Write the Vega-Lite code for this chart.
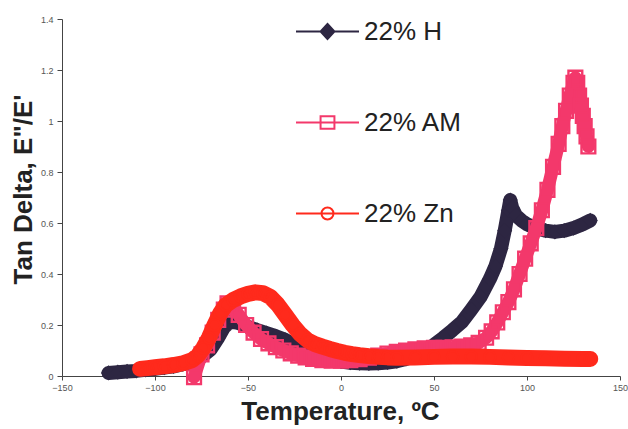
{
  "$schema": "https://vega.github.io/schema/vega-lite/v6.json",
  "width": 558,
  "height": 357,
  "autosize": {"type": "none"},
  "padding": {"left": 62, "top": 19, "right": 8, "bottom": 53},
  "background": "white",
  "config": {"view": {"stroke": null}, "font": "Liberation Sans"},
  "data": {
    "values": [
      {"series": "22% H", "temp": -125, "tan": 0.012}, {"series": "22% H", "temp": -120, "tan": 0.015},
      {"series": "22% H", "temp": -115, "tan": 0.018}, {"series": "22% H", "temp": -110, "tan": 0.02},
      {"series": "22% H", "temp": -105, "tan": 0.024}, {"series": "22% H", "temp": -100, "tan": 0.028},
      {"series": "22% H", "temp": -95, "tan": 0.033}, {"series": "22% H", "temp": -90, "tan": 0.038},
      {"series": "22% H", "temp": -85, "tan": 0.046}, {"series": "22% H", "temp": -80, "tan": 0.056},
      {"series": "22% H", "temp": -75, "tan": 0.075}, {"series": "22% H", "temp": -70, "tan": 0.105},
      {"series": "22% H", "temp": -66, "tan": 0.15}, {"series": "22% H", "temp": -63, "tan": 0.19},
      {"series": "22% H", "temp": -60, "tan": 0.21}, {"series": "22% H", "temp": -57, "tan": 0.212},
      {"series": "22% H", "temp": -54, "tan": 0.205}, {"series": "22% H", "temp": -50, "tan": 0.193},
      {"series": "22% H", "temp": -45, "tan": 0.18}, {"series": "22% H", "temp": -40, "tan": 0.168},
      {"series": "22% H", "temp": -35, "tan": 0.156}, {"series": "22% H", "temp": -30, "tan": 0.142},
      {"series": "22% H", "temp": -25, "tan": 0.122}, {"series": "22% H", "temp": -20, "tan": 0.104},
      {"series": "22% H", "temp": -15, "tan": 0.088}, {"series": "22% H", "temp": -10, "tan": 0.074},
      {"series": "22% H", "temp": -5, "tan": 0.064}, {"series": "22% H", "temp": 0, "tan": 0.057},
      {"series": "22% H", "temp": 5, "tan": 0.052}, {"series": "22% H", "temp": 10, "tan": 0.05},
      {"series": "22% H", "temp": 15, "tan": 0.049}, {"series": "22% H", "temp": 20, "tan": 0.05},
      {"series": "22% H", "temp": 25, "tan": 0.053}, {"series": "22% H", "temp": 30, "tan": 0.058},
      {"series": "22% H", "temp": 35, "tan": 0.067}, {"series": "22% H", "temp": 40, "tan": 0.08},
      {"series": "22% H", "temp": 45, "tan": 0.098}, {"series": "22% H", "temp": 50, "tan": 0.122},
      {"series": "22% H", "temp": 55, "tan": 0.15}, {"series": "22% H", "temp": 60, "tan": 0.18},
      {"series": "22% H", "temp": 65, "tan": 0.212}, {"series": "22% H", "temp": 70, "tan": 0.26},
      {"series": "22% H", "temp": 75, "tan": 0.31}, {"series": "22% H", "temp": 80, "tan": 0.38},
      {"series": "22% H", "temp": 83, "tan": 0.43}, {"series": "22% H", "temp": 86, "tan": 0.5},
      {"series": "22% H", "temp": 88, "tan": 0.57}, {"series": "22% H", "temp": 90, "tan": 0.65},
      {"series": "22% H", "temp": 91, "tan": 0.69}, {"series": "22% H", "temp": 92, "tan": 0.66},
      {"series": "22% H", "temp": 94, "tan": 0.63}, {"series": "22% H", "temp": 97, "tan": 0.61},
      {"series": "22% H", "temp": 100, "tan": 0.595}, {"series": "22% H", "temp": 105, "tan": 0.58},
      {"series": "22% H", "temp": 110, "tan": 0.57}, {"series": "22% H", "temp": 115, "tan": 0.565},
      {"series": "22% H", "temp": 120, "tan": 0.57}, {"series": "22% H", "temp": 125, "tan": 0.58},
      {"series": "22% H", "temp": 130, "tan": 0.595}, {"series": "22% H", "temp": 134, "tan": 0.61},

      {"series": "22% AM", "temp": -79, "tan": -0.005}, {"series": "22% AM", "temp": -75, "tan": 0.085},
      {"series": "22% AM", "temp": -72, "tan": 0.12}, {"series": "22% AM", "temp": -69, "tan": 0.17},
      {"series": "22% AM", "temp": -66, "tan": 0.22}, {"series": "22% AM", "temp": -63, "tan": 0.26},
      {"series": "22% AM", "temp": -61, "tan": 0.285}, {"series": "22% AM", "temp": -58, "tan": 0.27},
      {"series": "22% AM", "temp": -55, "tan": 0.24}, {"series": "22% AM", "temp": -51, "tan": 0.2},
      {"series": "22% AM", "temp": -47, "tan": 0.17}, {"series": "22% AM", "temp": -43, "tan": 0.145},
      {"series": "22% AM", "temp": -39, "tan": 0.128}, {"series": "22% AM", "temp": -35, "tan": 0.113},
      {"series": "22% AM", "temp": -31, "tan": 0.1}, {"series": "22% AM", "temp": -27, "tan": 0.089},
      {"series": "22% AM", "temp": -23, "tan": 0.08}, {"series": "22% AM", "temp": -19, "tan": 0.073},
      {"series": "22% AM", "temp": -15, "tan": 0.067}, {"series": "22% AM", "temp": -10, "tan": 0.062},
      {"series": "22% AM", "temp": -5, "tan": 0.06}, {"series": "22% AM", "temp": 0, "tan": 0.06},
      {"series": "22% AM", "temp": 5, "tan": 0.062}, {"series": "22% AM", "temp": 10, "tan": 0.066},
      {"series": "22% AM", "temp": 15, "tan": 0.072}, {"series": "22% AM", "temp": 20, "tan": 0.08},
      {"series": "22% AM", "temp": 25, "tan": 0.088}, {"series": "22% AM", "temp": 30, "tan": 0.095},
      {"series": "22% AM", "temp": 35, "tan": 0.1}, {"series": "22% AM", "temp": 40, "tan": 0.105},
      {"series": "22% AM", "temp": 45, "tan": 0.108}, {"series": "22% AM", "temp": 50, "tan": 0.11},
      {"series": "22% AM", "temp": 55, "tan": 0.11}, {"series": "22% AM", "temp": 60, "tan": 0.112},
      {"series": "22% AM", "temp": 65, "tan": 0.115}, {"series": "22% AM", "temp": 70, "tan": 0.12},
      {"series": "22% AM", "temp": 74, "tan": 0.13}, {"series": "22% AM", "temp": 78, "tan": 0.15},
      {"series": "22% AM", "temp": 81, "tan": 0.175}, {"series": "22% AM", "temp": 84, "tan": 0.21},
      {"series": "22% AM", "temp": 87, "tan": 0.25}, {"series": "22% AM", "temp": 90, "tan": 0.29},
      {"series": "22% AM", "temp": 93, "tan": 0.34}, {"series": "22% AM", "temp": 96, "tan": 0.4},
      {"series": "22% AM", "temp": 99, "tan": 0.46}, {"series": "22% AM", "temp": 102, "tan": 0.52},
      {"series": "22% AM", "temp": 105, "tan": 0.58}, {"series": "22% AM", "temp": 108, "tan": 0.65},
      {"series": "22% AM", "temp": 111, "tan": 0.73}, {"series": "22% AM", "temp": 114, "tan": 0.82},
      {"series": "22% AM", "temp": 117, "tan": 0.91}, {"series": "22% AM", "temp": 119, "tan": 0.98},
      {"series": "22% AM", "temp": 121, "tan": 1.04}, {"series": "22% AM", "temp": 123, "tan": 1.1},
      {"series": "22% AM", "temp": 125, "tan": 1.15}, {"series": "22% AM", "temp": 126, "tan": 1.17},
      {"series": "22% AM", "temp": 127, "tan": 1.15}, {"series": "22% AM", "temp": 128, "tan": 1.1},
      {"series": "22% AM", "temp": 129, "tan": 1.06}, {"series": "22% AM", "temp": 130, "tan": 1.02},
      {"series": "22% AM", "temp": 131, "tan": 0.98}, {"series": "22% AM", "temp": 132, "tan": 0.94},
      {"series": "22% AM", "temp": 133, "tan": 0.9},

      {"series": "22% Zn", "temp": -108, "tan": 0.028}, {"series": "22% Zn", "temp": -104, "tan": 0.031},
      {"series": "22% Zn", "temp": -100, "tan": 0.034}, {"series": "22% Zn", "temp": -95, "tan": 0.038},
      {"series": "22% Zn", "temp": -90, "tan": 0.043}, {"series": "22% Zn", "temp": -85, "tan": 0.05},
      {"series": "22% Zn", "temp": -80, "tan": 0.062}, {"series": "22% Zn", "temp": -77, "tan": 0.08},
      {"series": "22% Zn", "temp": -74, "tan": 0.11}, {"series": "22% Zn", "temp": -71, "tan": 0.15},
      {"series": "22% Zn", "temp": -68, "tan": 0.2}, {"series": "22% Zn", "temp": -65, "tan": 0.245},
      {"series": "22% Zn", "temp": -62, "tan": 0.278}, {"series": "22% Zn", "temp": -58, "tan": 0.298},
      {"series": "22% Zn", "temp": -54, "tan": 0.312}, {"series": "22% Zn", "temp": -50, "tan": 0.322},
      {"series": "22% Zn", "temp": -46, "tan": 0.328}, {"series": "22% Zn", "temp": -42, "tan": 0.325},
      {"series": "22% Zn", "temp": -38, "tan": 0.31}, {"series": "22% Zn", "temp": -34, "tan": 0.28},
      {"series": "22% Zn", "temp": -30, "tan": 0.24}, {"series": "22% Zn", "temp": -26, "tan": 0.2},
      {"series": "22% Zn", "temp": -22, "tan": 0.165}, {"series": "22% Zn", "temp": -18, "tan": 0.14},
      {"series": "22% Zn", "temp": -14, "tan": 0.125}, {"series": "22% Zn", "temp": -10, "tan": 0.115},
      {"series": "22% Zn", "temp": -6, "tan": 0.106}, {"series": "22% Zn", "temp": -2, "tan": 0.098},
      {"series": "22% Zn", "temp": 2, "tan": 0.091}, {"series": "22% Zn", "temp": 6, "tan": 0.086},
      {"series": "22% Zn", "temp": 10, "tan": 0.082}, {"series": "22% Zn", "temp": 15, "tan": 0.078},
      {"series": "22% Zn", "temp": 20, "tan": 0.075}, {"series": "22% Zn", "temp": 25, "tan": 0.073},
      {"series": "22% Zn", "temp": 30, "tan": 0.072}, {"series": "22% Zn", "temp": 40, "tan": 0.073},
      {"series": "22% Zn", "temp": 50, "tan": 0.075}, {"series": "22% Zn", "temp": 60, "tan": 0.076},
      {"series": "22% Zn", "temp": 70, "tan": 0.076}, {"series": "22% Zn", "temp": 80, "tan": 0.075},
      {"series": "22% Zn", "temp": 90, "tan": 0.073}, {"series": "22% Zn", "temp": 100, "tan": 0.071},
      {"series": "22% Zn", "temp": 110, "tan": 0.07}, {"series": "22% Zn", "temp": 120, "tan": 0.068},
      {"series": "22% Zn", "temp": 130, "tan": 0.067}, {"series": "22% Zn", "temp": 134, "tan": 0.067}
    ]
  },
  "encoding": {
    "x": {
      "field": "temp", "type": "quantitative",
      "scale": {"domain": [-150, 150], "nice": false},
      "axis": {
        "values": [-150, -100, -50, 0, 50, 100, 150],
        "title": "Temperature, ºC",
        "titleFontSize": 26, "titleFontWeight": "bold", "titleColor": "#222",
        "titleX": 278, "titleY": 43, "titleBaseline": "alphabetic",
        "labelFontSize": 9, "labelColor": "#555", "labelFlush": false, "labelPadding": 3,
        "tickSize": 4, "tickColor": "#444", "domainColor": "#444", "grid": false
      }
    },
    "y": {
      "field": "tan", "type": "quantitative",
      "scale": {"domain": [0, 1.4], "nice": false},
      "axis": {
        "values": [0, 0.2, 0.4, 0.6, 0.8, 1, 1.2, 1.4],
        "format": "~g",
        "title": "Tan Delta, E\"/E'",
        "titleFontSize": 26, "titleFontWeight": "bold", "titleColor": "#222",
        "titleX": -31, "titleY": 170, "titleBaseline": "alphabetic", "titleAngle": -90,
        "labelFontSize": 9, "labelColor": "#555", "labelPadding": 4,
        "tickSize": 5, "tickColor": "#444", "domainColor": "#444", "grid": false
      }
    },
    "color": {
      "field": "series", "type": "nominal",
      "scale": {"domain": ["22% H", "22% AM", "22% Zn"], "range": ["#2d2642", "#f3386b", "#ff2a1c"]},
      "legend": {
        "orient": "none", "legendX": 233, "legendY": -20, "title": null, "padding": 0,
        "direction": "vertical",
        "symbolSize": 3969, "symbolStrokeWidth": 2,
        "labelFontSize": 26, "labelFont": "Liberation Sans", "labelColor": "#222",
        "labelOffset": 4, "rowPadding": 45,
        "encode": {
          "symbols": {
            "update": {
              "shape": {"signal": "datum.value === '22% H' ? 'M-1,0H1M0,-0.24L0.22,0L0,0.24L-0.22,0Z' : datum.value === '22% AM' ? 'M-1,0H1M-0.22,-0.2H0.22V0.2H-0.22Z' : 'M-1,0H1M0.19,0A0.19,0.19,0,1,1,-0.19,0A0.19,0.19,0,1,1,0.19,0Z'"},
              "fillOpacity": {"signal": "datum.value === '22% H' ? 1 : 0"},
              "strokeOpacity": {"value": 1},
              "stroke": {"signal": "datum.value === '22% H' ? '#1e1e24' : scale('color', datum.value)"},
              "opacity": {"value": 1}
            }
          }
        }
      }
    }
  },
  "layer": [
    {
      "transform": [{"filter": "datum.series === '22% H'"}],
      "layer": [
        {"mark": {"type": "line", "strokeWidth": 14, "strokeCap": "round", "strokeJoin": "round"}, "encoding": {}},
        {"mark": {"type": "point", "shape": "diamond", "filled": true, "size": 230, "opacity": 1}, "encoding": {}}
      ]
    },
    {
      "transform": [{"filter": "datum.series === '22% AM'"}],
      "layer": [
        {"mark": {"type": "line", "strokeWidth": 13, "strokeCap": "round", "strokeJoin": "round"}, "encoding": {}},
        {"mark": {"type": "point", "shape": "square", "filled": false, "size": 190, "strokeWidth": 2.4, "opacity": 1}, "encoding": {}}
      ]
    },
    {
      "transform": [{"filter": "datum.series === '22% Zn'"}],
      "layer": [
        {"mark": {"type": "line", "strokeWidth": 16, "strokeCap": "round", "strokeJoin": "round"}, "encoding": {}},
        {"mark": {"type": "point", "shape": "circle", "filled": false, "size": 130, "strokeWidth": 2, "opacity": 1}, "encoding": {}}
      ]
    }
  ]
}
